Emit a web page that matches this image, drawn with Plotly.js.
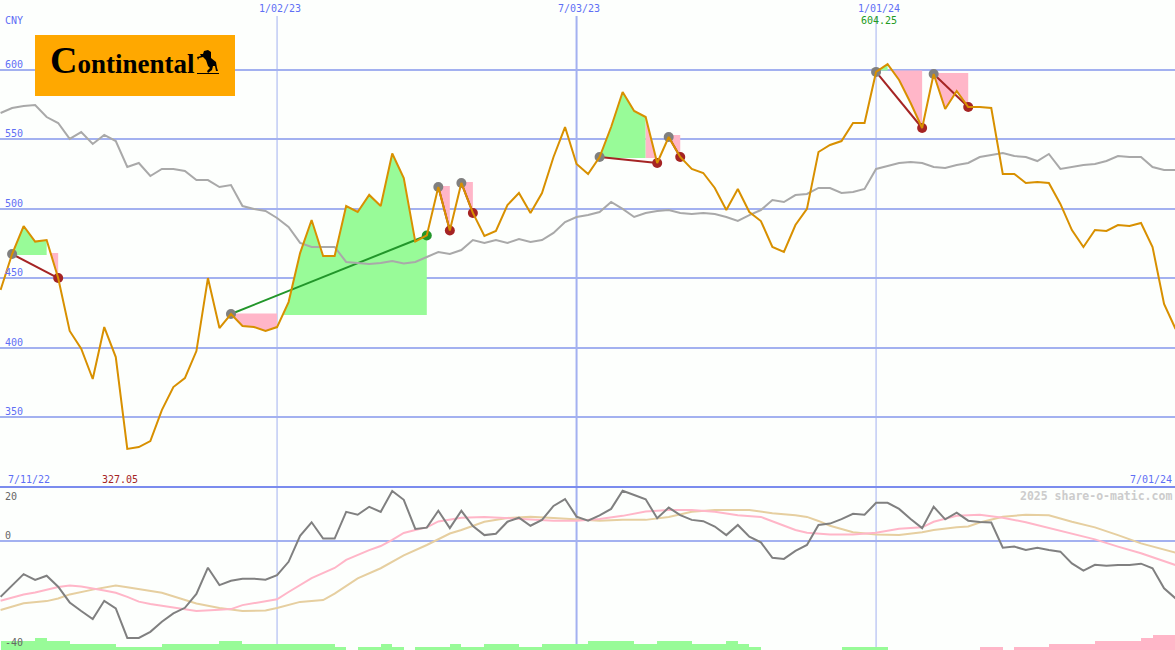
<!DOCTYPE html>
<html>
<head>
<meta charset="utf-8">
<script src="https://cdn.plot.ly/plotly-3.0.1.min.js"></script>
<style>html,body{margin:0;padding:0;background:#fdfffd}#chart{width:1175px;height:650px}</style>
</head>
<body>
<div id="chart"></div>
<script>
// Weekly index: week 0 = 7/18/22, 1 week apart
const closePrice = [441.5,467.4,487.6,476.4,477.5,450.1,412,399.3,377.4,414.8,393.2,327.05,328.4,332.7,355,371.6,378.1,397.5,450.1,414.1,424.2,415.6,414.8,412,414.8,432.8,468.1,491.9,466,466,502,497.7,510,502,539.8,522.2,476.4,480.8,515.7,484.4,518.6,497,480.4,484,502.7,511.4,497,511.4,537.3,558.9,532.3,525.1,537.3,558.9,584.1,570.5,566.1,533,551.7,537.3,528.7,525.8,515,499.1,514.3,497.7,491.2,472.5,468.9,488.3,499.9,540.9,546,548.8,561.8,561.8,598.6,604.25,592.8,576.2,558.2,597.1,571.9,584.9,573.3,573.3,572.6,525.1,525.1,518.6,519.3,518.6,503.5,484.7,472.5,484.7,484,488.3,487.6,489.8,472.5,431.4,413.4];
const benchmark = [569,572.6,574.1,574.8,566.1,561.8,550.3,555.3,546.7,553.2,548.8,530.1,533,523.6,528.7,528.7,527.2,520.7,520.7,515.7,517.1,502,499.9,498.4,493.4,486.9,475.4,472.5,472.5,472.5,461.7,460.9,460.2,460.9,462.4,460.6,461.7,465.3,468.9,467.4,470.3,477.5,475.4,477.5,475.4,478.2,476.1,477.5,482.6,490.5,494.1,495.5,497.7,504.9,499.9,494.1,497,498.4,499.1,497,496.2,497,496.2,494.1,491.2,495.5,499.1,506.3,504.9,509.9,510.7,515,515,511.4,512.1,514.3,528.7,530.8,533,533.7,533,530.1,529.4,531.6,533,537.3,538.8,540.2,538,537.3,534.4,539.5,528.7,530.1,531.6,532.3,534.4,538,537.3,537.3,530.1,528,528];
const momentum = [-20.9,-16.5,-12.4,-14.6,-13,-17.1,-23,-26.2,-29.2,-22.4,-25.2,-36.3,-36.3,-34,-30.2,-27.1,-25,-19.8,-10,-16.5,-14.9,-14.1,-14.1,-14.5,-12.8,-7.8,1.9,7,0.9,0.9,10.9,9.8,12.8,10.9,18.7,15.4,4.5,5,11.3,4.8,11.3,5.6,2.2,2.7,7.2,8.7,5.7,7.9,13.1,15.7,9.1,7.6,9.6,12,18.8,17.2,15.6,8.5,12.5,9.7,7.9,7.4,5.4,2.2,6,1.6,-0.5,-6.3,-6.7,-3.7,-1.5,6,6.5,8.2,10.2,9.8,14.3,14.3,12,8.2,4.8,12.8,8.1,10.6,7.6,7.1,6.9,-2.5,-2.1,-3.4,-2.5,-3.4,-4,-8.4,-11.1,-8.9,-9.3,-9,-9,-8.5,-10.2,-17.7,-21.5];
const maShortWeeks = [0,2,3,5,6,7,9,10,11,12,13,15,16,17,19,20,21,23,24,25,26,27,29,30,32,33,34,35,36,37,38,39,40,42,44,46,48,50,52,54,56,58,60,62,64,66,67,68,69,70,71,72,74,76,78,80,81,83,85,87,89,91,93,95,97,99,102];
const maShortValues = [-22.4,-20,-19.3,-17.2,-16.7,-17,-18.5,-19.4,-20.9,-22.7,-23.6,-24.9,-25.6,-26.2,-25.7,-25.5,-24,-22.7,-21.8,-19.1,-16.5,-13.9,-10.1,-7.1,-3.4,-1.9,0.4,3,4.1,5.1,7.3,7.9,8.7,9,8.6,8.2,7.6,7.6,8.2,9.4,11,11.6,11.6,10.9,9.6,9,7.3,5.6,4.1,3.1,2.7,2.4,2.4,3.1,4.6,5.1,7.2,9.4,9.8,8.7,7,4.8,2.6,0.6,-2.1,-4.6,-9];
const maLongWeeks = [0,2,4,5,6,8,10,11,14,16,17,19,21,23,24,26,28,29,31,33,35,37,38,39,40,42,44,46,48,50,52,54,56,58,60,62,65,67,68,69,70,71,72,74,76,78,80,81,83,84,85,87,89,91,93,95,97,99,102];
const maLongValues = [-25.8,-23.3,-22.5,-21.5,-20,-18.2,-16.7,-17.3,-19.4,-22.1,-23.4,-25.1,-26.2,-26,-25.1,-22.8,-22.1,-19.7,-14,-10.2,-5.4,-1.5,0.7,2.8,4.1,7.2,8.6,9.1,8.6,8.1,7.6,7.9,7.9,9,10.9,11.6,11.6,10.4,10.1,9.6,9,7.5,5.7,3.3,2.4,2.2,3.3,4.1,5.1,5.4,6.9,9.1,9.8,9.6,7.2,5.1,2.2,-0.9,-4.4];
const histValues = [3,3,3,4,3,3,2,2,2,2,1,1,1,1,2,2,2,2,2,3,3,2,2,2,2,2,2,2,2,1,0,1,1,2,1,0,1,1,1,2,1,1,2,2,2,1,1,2,2,2,2,3,3,3,3,2,2,3,3,3,2,2,2,3,2,1,0,0,0,0,0,0,0,1,1,1,1,0,0,0,0,0,0,0,0,-1,-1,0,-1,-1,-1,-2,-2,-2,-2,-3,-3,-3,-3,-4,-5,-5,-5];

const priceGrid = [600,550,500,450,400,350];
const priceGridLabelY = [64,133,203,272,342,411];
const oscGrid = [0];
const oscTickLabels = ['20','0','-40'];
const oscTickLabelY = [496,535,642];
const dateWeeks = [24,50,76];
const dateLabels = ['1/02/23','7/03/23','1/01/24'];
const dateLineWidths = [1,2,1];
const dateLabelX = [280,579,879];

// trend signals: start week, end week, colour
const signals = [[1,5,'#a52424'],[20,37,'#22962a'],[38,39,'#a52424'],[40,41,'#a52424'],[52,57,'#a52424'],[58,59,'#a52424'],[76,80,'#a52424'],[81,84,'#a52424']];
// shaded areas: start week, end week, base price, side ('up' green / 'dn' pink), colour override
const shades = [
 [1,4,466.7,'up'],[4,5,468.2,'dn'],
 [20,24,424.6,'dn'],[24,37,423.5,'up'],
 [38,39,516.4,'dn'],[40,41,519.3,'dn'],
 [52,56,536.6,'up'],[56,57,536.6,'up','#ffb6c8'],
 [58,59,553.2,'dn'],
 [76,77,599.6,'up'],[77,80,599.6,'dn'],[81,84,597.8,'dn']
];

const GREEN='#98fb98', PINK='#ffb6c8', GRID='#a3b1f0', BLUE='#5f6ff5';
const W=1175,H=650;
const px=x=>x/W, py=y=>1-y/H;
const weeks=closePrice.map((_,i)=>i);

function shadeTrace(s){
  const [a,b,base,side,col]=s, xs=[],ys=[];
  const clip=v=>side==='up'?Math.max(v,base):Math.min(v,base);
  for(let k=a;k<=b;k++){
    xs.push(k);ys.push(clip(closePrice[k]));
    if(k<b){
      const d0=closePrice[k]-base,d1=closePrice[k+1]-base;
      if(d0*d1<0){xs.push(k+d0/(d0-d1));ys.push(base);}
    }
  }
  xs.push(b,a);ys.push(base,base);
  return {x:xs,y:ys,xaxis:'x',yaxis:'y',mode:'lines',fill:'toself',fillcolor:col||(side==='up'?GREEN:PINK),line:{width:0},hoverinfo:'skip'};
}

const traces=[];
shades.forEach(s=>traces.push(shadeTrace(s)));
signals.forEach(s=>{
  const [a,b,c]=s;
  traces.push({x:[a,b],y:[closePrice[a],closePrice[b]],mode:'lines',line:{color:c,width:2},xaxis:'x',yaxis:'y',hoverinfo:'skip'});
  traces.push({x:[a,b],y:[closePrice[a],closePrice[b]],mode:'markers',marker:{size:10,color:['#808080',c]},xaxis:'x',yaxis:'y',hoverinfo:'skip'});
});
traces.push({x:weeks,y:benchmark,mode:'lines',line:{color:'#a9a9a9',width:2},xaxis:'x',yaxis:'y'});
traces.push({x:weeks,y:closePrice,mode:'lines',line:{color:'#d89000',width:2},xaxis:'x',yaxis:'y'});
traces.push({x:maLongWeeks,y:maLongValues,mode:'lines',line:{color:'#e6cfa0',width:2},xaxis:'x',yaxis:'y2'});
traces.push({x:maShortWeeks,y:maShortValues,mode:'lines',line:{color:'#ffb6c8',width:2},xaxis:'x',yaxis:'y2'});
traces.push({x:weeks,y:momentum,mode:'lines',line:{color:'#808080',width:2},xaxis:'x',yaxis:'y2'});
traces.push({type:'bar',x:weeks.map(k=>k+0.5),y:histValues.map(Math.abs),width:1,
  marker:{color:histValues.map(v=>v<0?PINK:GREEN),line:{width:0}},xaxis:'x',yaxis:'y3'});

const mono='"DejaVu Sans Mono", monospace';
function label(text,x,y,color,anchor,size,extra){
  return Object.assign({text:text,xref:'paper',yref:'paper',x:px(x),y:py(y),xanchor:anchor||'left',yanchor:'middle',
    showarrow:false,font:{family:mono,size:size||10,color:color||BLUE},borderpad:0,bgcolor:'rgba(0,0,0,0)'},extra||{});
}
const annotations=[];
priceGrid.forEach((v,i)=>annotations.push(label(String(v),4,priceGridLabelY[i])));
oscTickLabels.forEach((t,i)=>annotations.push(label(t,4,oscTickLabelY[i],'#666666')));
dateLabels.forEach((t,i)=>annotations.push(label(t,dateLabelX[i],8,BLUE,'center')));
annotations.push(label('CNY',4,21));
annotations.push(label('604.25',879,21,'#229a22','center'));
annotations.push(label('7/11/22',7,479));
annotations.push(label('327.05',120,479,'#a52424','center'));
annotations.push(label('7/01/24',1173,479,BLUE,'right'));
annotations.push(label('2025 share-o-matic.com',1173,496,'#cccccc','right',11.5,{font:{family:mono,size:11.5,color:'#cccccc',weight:'bold'}}));
const serif='"Liberation Serif", serif';
annotations.push(label('<span style="font-size:38px">C</span>ontinental',49,60,'#000000','left',27,{font:{family:serif,size:27,color:'#000',weight:'bold'}}));

const horse=[[204,51],[208,50],[211,52],[211,58],[216,62],[217,68],[218,71],[216,71],[215,66],[213,66],[212,70],[208,73],[207,71],[210,68],[208,66],[206,60],[203,57],[199,58],[198,60],[197,57],[201,56],[200,54],[203,54]];
const horsePath='M'+horse.map(p=>px(p[0])+','+py(p[1])).join('L')+'Z';

const shapes=[];
dateWeeks.forEach((k,i)=>shapes.push({type:'line',layer:'below',xref:'x',yref:'paper',x0:k,x1:k,y0:0,y1:py(16),line:{color:GRID,width:dateLineWidths[i]}}));
shapes.push({type:'line',layer:'below',xref:'paper',yref:'paper',x0:0,x1:1,y0:py(487),y1:py(487),line:{color:'#7b8cee',width:2}});
shapes.push({type:'rect',layer:'above',xref:'paper',yref:'paper',x0:px(35),x1:px(235),y0:py(96),y1:py(35),fillcolor:'#ffa800',line:{width:0}});
shapes.push({type:'path',layer:'above',xref:'paper',yref:'paper',path:horsePath,fillcolor:'#000',line:{width:0}});
shapes.push({type:'line',layer:'above',xref:'paper',yref:'paper',x0:px(197),x1:px(219),y0:py(73.5),y1:py(73.5),line:{color:'#000',width:1}});

const split=1-487/650;
const layout={
  width:W,height:H,margin:{l:0,r:0,t:0,b:0},paper_bgcolor:'#fdfffd',plot_bgcolor:'#fdfffd',showlegend:false,hovermode:false,
  barmode:'overlay',bargap:0,
  xaxis:{range:[-0.05,101.95],domain:[0,1],showgrid:false,zeroline:false,showticklabels:false,ticks:'',showline:false,anchor:'y2'},
  yaxis:{domain:[split,1],range:[299.6,650.4],tickmode:'array',tickvals:priceGrid,showticklabels:false,ticks:'',gridcolor:GRID,gridwidth:2,zeroline:false,showline:false},
  yaxis2:{domain:[0,split],range:[-40.8,20.2],tickmode:'array',tickvals:oscGrid,showticklabels:false,ticks:'',gridcolor:GRID,gridwidth:2,zeroline:false,showline:false},
  yaxis3:{domain:[0,split],range:[0,163/3],overlaying:'y2',showgrid:false,zeroline:false,showticklabels:false,ticks:'',showline:false},
  annotations:annotations,shapes:shapes
};
Plotly.newPlot('chart',traces,layout,{displayModeBar:false,staticPlot:true});
</script>
</body>
</html>
